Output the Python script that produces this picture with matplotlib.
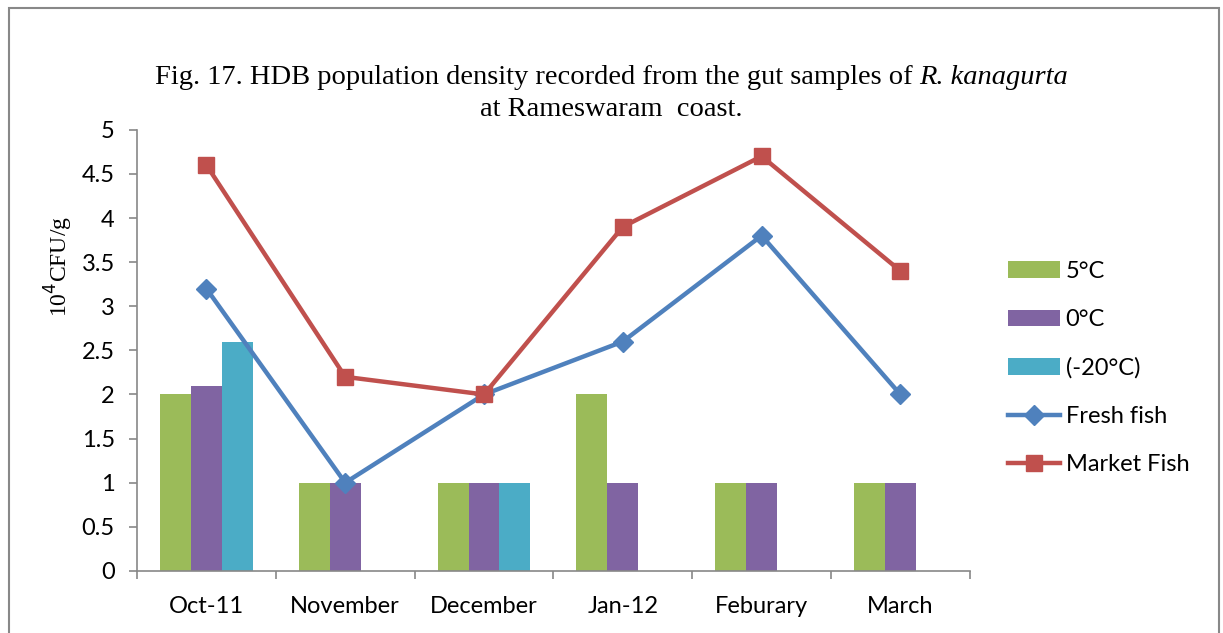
import numpy as np
import matplotlib.pyplot as plt
from matplotlib.patches import Rectangle

months = ['Oct-11', 'November', 'December', 'Jan-12', 'Feburary', 'March']
temp_5 = [2, 1, 1, 2, 1, 1]
temp_0 = [2.1, 1, 1, 1, 1, 1]
temp_m20 = [2.6, 0, 1, 0, 0, 0]
fresh_fish = [3.2, 1, 2, 2.6, 3.8, 2]
market_fish = [4.6, 2.2, 2, 3.9, 4.7, 3.4]

fig = plt.figure(figsize=(12.23, 6.33), dpi=100)
ax = fig.add_axes([0.112, 0.098, 0.681, 0.697])

x = np.arange(len(months))
w = 0.223
b1 = ax.bar(x - w, temp_5, w, color='#9BBB59', label='5°C')
b2 = ax.bar(x, temp_0, w, color='#8064A2', label='0°C')
b3 = ax.bar(x + w, temp_m20, w, color='#4BACC6', label='(-20°C)')
l1, = ax.plot(x, fresh_fish, color='#4F81BD', lw=3.2, marker='D', ms=10, label='Fresh fish')
l2, = ax.plot(x, market_fish, color='#C0504D', lw=3.2, marker='s', ms=11, label='Market Fish')

ax.set_xlim(-0.5, len(months) - 0.5)
ax.set_ylim(0, 5)
ax.set_yticks(np.arange(0, 5.01, 0.5))
ax.set_yticklabels(['0', '0.5', '1', '1.5', '2', '2.5', '3', '3.5', '4', '4.5', '5'])
ax.set_xticks(x)
ax.set_xticklabels(months)
ax.set_xticks(np.arange(-0.5, len(months)), minor=True)
ax.tick_params(axis='x', which='major', length=0, pad=18)
ax.tick_params(axis='x', which='minor', length=6, color='#888888', width=1.2)
ax.tick_params(axis='y', length=6, color='#888888', width=1.2, pad=10)
for lab in ax.get_xticklabels() + ax.get_yticklabels():
    lab.set_family('Lato')
    lab.set_fontsize(17)
for s in ['top', 'right']:
    ax.spines[s].set_visible(False)
for s in ['left', 'bottom']:
    ax.spines[s].set_color('#888888')
    ax.spines[s].set_linewidth(1.2)

ax.set_ylabel('10$^4$CFU/g', family='Liberation Serif', fontsize=17, labelpad=4)
ax.yaxis.set_label_coords(-0.075, 0.69)

# title, with the species name in italics
r = fig.canvas.get_renderer()
t1 = fig.text(0.5, 0.878, 'Fig. 17. HDB population density recorded from the gut samples of ',
              ha='right', va='center', family='Liberation Serif', fontsize=20.5)
t2 = fig.text(0.5, 0.878, 'R. kanagurta', ha='left', va='center',
              family='Liberation Serif', style='italic', fontsize=20.5)
w1 = t1.get_window_extent(r).width
w2 = t2.get_window_extent(r).width
fw = fig.get_figwidth() * fig.dpi
xc = 0.5 + (w1 - w2) / 2 / fw
t1.set_x(xc)
t2.set_x(xc)
fig.text(0.5, 0.827, 'at Rameswaram  coast.', ha='center', va='center',
         family='Liberation Serif', fontsize=20.5)

leg = ax.legend([b1, b2, b3, l1, l2], ['5°C', '0°C', '(-20°C)', 'Fresh fish', 'Market Fish'],
                loc='center left', bbox_to_anchor=(1.02, 0.46), frameon=False,
                prop={'family': 'Lato', 'size': 17}, labelspacing=1.15,
                handlelength=2.2, handletextpad=0.25, handleheight=0.7)

fig.patches.append(Rectangle((0.007, -0.02), 0.99, 1.007, transform=fig.transFigure,
                             fill=False, edgecolor='#888888', lw=1.5))

fig.savefig('out.png', dpi=100)
